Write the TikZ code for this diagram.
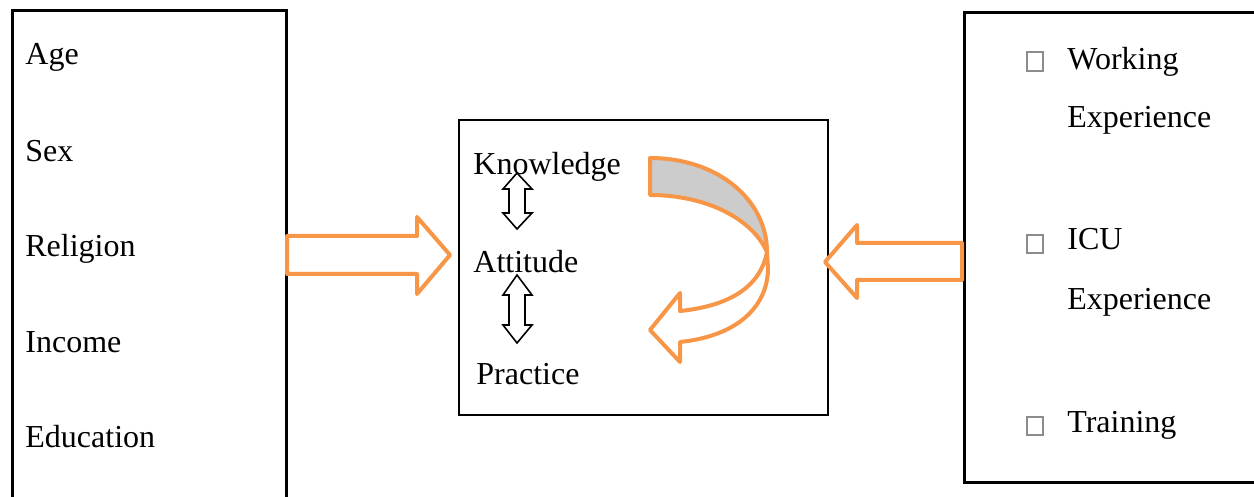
\documentclass[tikz,border=0pt]{standalone}
\usepackage{fontspec}
\setmainfont{Liberation Serif}
\definecolor{accent}{HTML}{F79646}
\definecolor{shade}{HTML}{CCCCCC}
\begin{document}
\begin{tikzpicture}[x=0.5pt,y=-0.5pt,
  lbl/.style={anchor=base west,inner sep=0pt,font=\fontsize{16pt}{19pt}\selectfont},
  frame/.style={draw=black,line width=1.5pt},
  blockarrow/.style={draw=accent,line width=2pt,line join=round,fill=white},
  pairarrow/.style={draw=black,line width=0.8pt,line join=miter},
  tick/.style={draw=black!45,line width=0.6pt}]
\useasboundingbox (0,0) rectangle (1254,497);

% demographic box (open at the bottom edge)
\draw[frame] (12,497) -- (12,11) -- (286,11) -- (286,497);
\node[lbl] (age) at (25,65) {Age};
\node[lbl] (sex) at (25,162) {Sex};
\node[lbl] (rel) at (25,257) {Religion};
\node[lbl] (inc) at (25,353) {Income};
\node[lbl] (edu) at (25,448) {Education};

% experience box (open at the right edge)
\draw[frame] (1254,13) -- (964,13) -- (964,482) -- (1254,482);
\draw[tick] (1027,52) rectangle (1043,71);
\draw[tick] (1027,235) rectangle (1043,253);
\draw[tick] (1027,417) rectangle (1043,435);
\node[lbl] (work) at (1067,70) {Working};
\node[lbl] (exp1) at (1067,128) {Experience};
\node[lbl] (icu) at (1067,250) {ICU};
\node[lbl] (exp2) at (1067,310) {Experience};
\node[lbl] (train) at (1067,432) {Training};

% central KAP box
\draw[black,line width=1.3pt] (459,120) rectangle (828,415);
\node[lbl] (know) at (473,175) {Knowledge};
\node[lbl] (att) at (473,273) {Attitude};
\node[lbl] (prac) at (476,385) {Practice};

% two-way arrows between the KAP items
\draw[pairarrow] (517,173) -- (532,189) -- (525,189) -- (525,213) -- (532,213) -- (517,229)
  -- (503,213) -- (509,213) -- (509,189) -- (503,189) -- cycle;
\draw[pairarrow] (517,275) -- (532,295) -- (525,295) -- (525,325) -- (532,325) -- (517,343)
  -- (503,325) -- (509,325) -- (509,295) -- (503,295) -- cycle;

% curved feedback arrow: shaded back part, then the white front part with its head
\draw[blockarrow,fill=shade] (650,158) .. controls (718,158) and (767,200) .. (767,252)
  .. controls (752,218) and (705,195) .. (650,195) -- cycle;
\draw[blockarrow] (767,252) .. controls (760,288) and (728,306) .. (680,311)
  -- (680,293) -- (650,330) -- (680,362) -- (680,342)
  .. controls (738,336) and (768,306) .. (768,268) -- cycle;

% block arrows into the central box
\draw[blockarrow] (287,236) -- (417,236) -- (417,217) -- (450,255) -- (417,294) -- (417,274) -- (287,274) -- cycle;
\draw[blockarrow] (962,243) -- (857,243) -- (857,225) -- (825,262) -- (857,298) -- (857,280) -- (962,280) -- cycle;
\end{tikzpicture}
\end{document}
